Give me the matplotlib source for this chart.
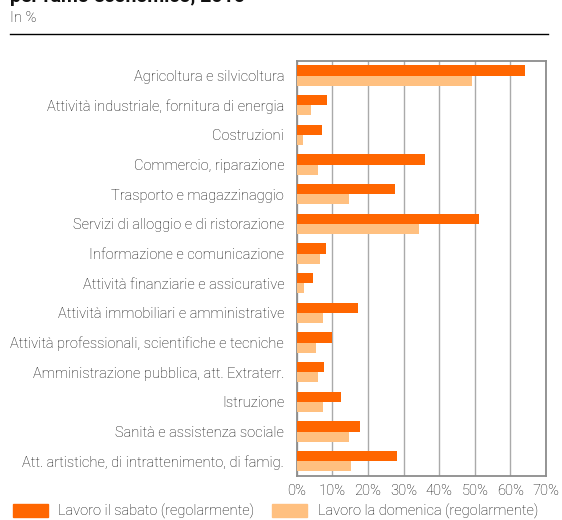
import matplotlib.pyplot as plt
import numpy as np
from matplotlib.patches import Patch
from matplotlib.lines import Line2D

plt.rcParams['font.family'] = ['Roboto', 'DejaVu Sans']

categorie = [
    'Agricoltura e silvicoltura',
    'Attività industriale, fornitura di energia',
    'Costruzioni',
    'Commercio, riparazione',
    'Trasporto e magazzinaggio',
    'Servizi di alloggio e di ristorazione',
    'Informazione e comunicazione',
    'Attività finanziarie e assicurative',
    'Attività immobiliari e amministrative',
    'Attività professionali, scientifiche e tecniche',
    'Amministrazione pubblica, att. Extraterr.',
    'Istruzione',
    'Sanità e assistenza sociale',
    'Att. artistiche, di intrattenimento, di famig.',
]
sabato = [64.1, 8.5, 7.1, 36.0, 27.6, 51.2, 8.2, 4.6, 17.2, 9.9, 7.7, 12.4, 17.8, 28.2]
domenica = [49.2, 4.0, 1.8, 6.0, 14.7, 34.3, 6.5, 2.1, 7.4, 5.4, 6.0, 7.4, 14.7, 15.2]
xticks = [0, 10, 20, 30, 40, 50, 60, 70]

arancio = '#ff6600'
chiaro = '#ffc080'
grigio = '#8c8c8c'
testo = '#0d0d0d'

fig = plt.figure(figsize=(5.62, 5.2), dpi=100)
ax = fig.add_axes([296.7 / 562, 1 - 476 / 520, (546 - 296.7) / 562, (476 - 60.7) / 520])

y = np.arange(len(categorie))
h = 0.34
ax.barh(y - h / 2, sabato, height=h, color=arancio, zorder=3)
ax.barh(y + h / 2, domenica, height=h, color=chiaro, zorder=3)

ax.set_ylim(len(categorie) - 0.5, -0.5)
ax.set_xlim(0, 70)
ax.set_xticks(xticks)
ax.set_xticklabels(['{}%'.format(t) for t in xticks], fontsize=10.5, color=testo, fontweight='light')
ax.set_yticks(y)
ax.set_yticklabels(categorie, fontsize=10.5, color=testo, fontweight='light')
ax.tick_params(axis='y', length=0, pad=9)
ax.tick_params(axis='x', length=0, pad=6)
ax.grid(axis='x', color='#aaaaaa', linewidth=1, zorder=0)
for s in ax.spines.values():
    s.set_color(grigio)
    s.set_linewidth(1.3)

# titolo (tagliato in alto come nell'originale) e sottotitolo
fig.text(10 / 562, 1 - 2 / 520, 'per ramo economico, 2016', fontsize=14, fontweight='bold',
         va='baseline', ha='left', color='#111111')
fig.text(10 / 562, 1 - 18 / 520, 'In %', fontsize=10.5, va='center', ha='left',
         color=testo, fontweight='light')
fig.add_artist(Line2D([10 / 562, 548 / 562], [1 - 34 / 520, 1 - 34 / 520],
                      color='black', linewidth=1, transform=fig.transFigure))

handles = [Patch(color=arancio, label='Lavoro il sabato (regolarmente)'),
           Patch(color=chiaro, label='Lavoro la domenica (regolarmente)')]
leg = fig.legend(handles=handles, loc='center left', bbox_to_anchor=(13 / 562, 1 - 511 / 520),
                 ncol=2, frameon=False, prop={'size': 10.5, 'weight': 'light'},
                 handlelength=2.4, handleheight=1.0,
                 handletextpad=0.7, columnspacing=1.25, borderaxespad=0, borderpad=0)
for t in leg.get_texts():
    t.set_color(testo)

fig.savefig('out.png', dpi=100)
